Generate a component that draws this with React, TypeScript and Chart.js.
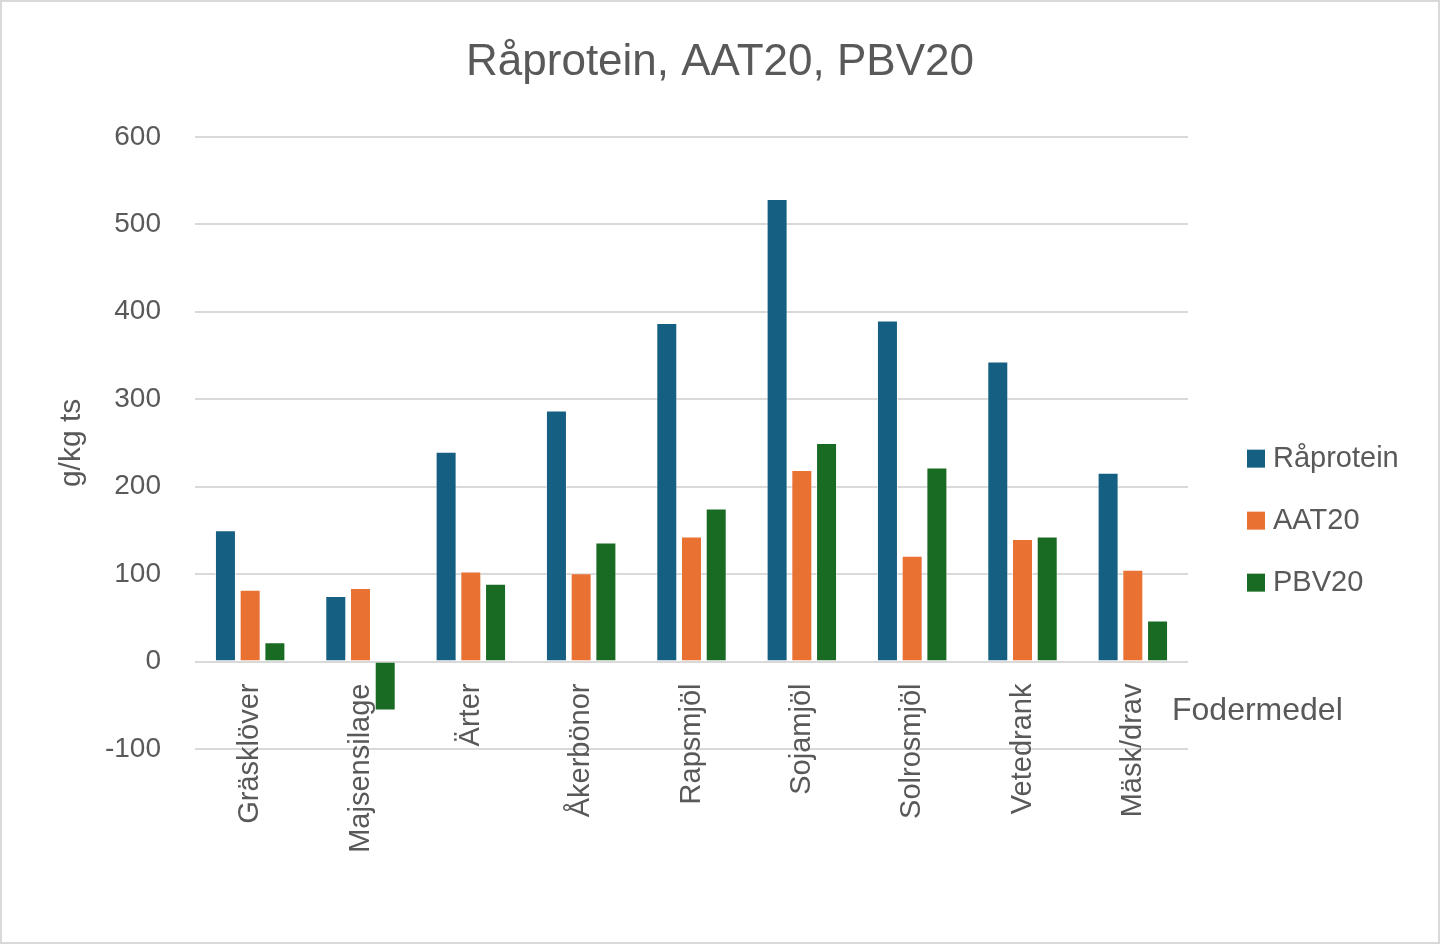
import React, { useEffect, useRef } from "react";
import { Chart, registerables } from "chart.js";

Chart.register(...registerables);

const categories = ["Gräsklöver", "Majsensilage", "Ärter", "Åkerbönor", "Rapsmjöl", "Sojamjöl", "Solrosmjöl", "Vetedrank", "Mäsk/drav"];
const raprotein = [150, 75, 240, 287, 387, 529, 390, 343, 216];
const aat20 = [82, 84, 103, 101, 143, 219, 121, 140, 105];
const pbv20 = [22, -56, 89, 136, 175, 250, 222, 143, 47];
const seriesNames = ["Råprotein", "AAT20", "PBV20"];
const seriesColors = ["#156082", "#E97132", "#196B24"];
const chartTitle = "Råprotein, AAT20, PBV20";
const yAxisTitle = "g/kg ts";
const xAxisTitle = "Fodermedel";
const yMin = -100;
const yMax = 600;
const yStep = 100;

const FONT = "'Liberation Sans', Arial, sans-serif";
const TEXT = "#595959";
const GRID = "#d9d9d9";

const sideTextPlugin = {
  id: "sideText",
  afterDraw(chart: any) {
    const { ctx, chartArea, scales } = chart;
    const y = scales.y;
    ctx.save();
    // category-axis title, right of the axis
    ctx.font = `32px ${FONT}`;
    ctx.fillStyle = TEXT;
    ctx.textAlign = "left";
    ctx.textBaseline = "middle";
    ctx.fillText(xAxisTitle, chartArea.right - 16, y.getPixelForValue(0) + 50);
    // legend
    const h = chartArea.bottom - chartArea.top;
    const cy = chartArea.top + h * 0.627;
    const step = 62;
    const n = chart.data.datasets.length;
    ctx.font = `29px ${FONT}`;
    chart.data.datasets.forEach((ds: any, i: number) => {
      const iy = cy + (i - (n - 1) / 2) * step;
      const bx = chartArea.right + 59;
      ctx.fillStyle = ds.backgroundColor;
      ctx.fillRect(bx, iy - 9, 18, 18);
      ctx.fillStyle = TEXT;
      ctx.fillText(ds.label, bx + 26, iy);
    });
    ctx.restore();
  },
};

export default function App() {
  const ref = useRef<HTMLCanvasElement>(null);

  useEffect(() => {
    document.body.style.margin = "0";
    const canvas = ref.current;
    if (!canvas) return;
    const seriesData = [raprotein, aat20, pbv20];
    const chart = new Chart(canvas, {
      type: "bar",
      data: {
        labels: categories,
        datasets: seriesNames.map((name, i) => ({
          label: name,
          data: seriesData[i],
          backgroundColor: seriesColors[i],
          borderColor: "rgba(255,255,255,0.55)",
          borderWidth: 1,
          categoryPercentage: 0.672,
          barPercentage: 0.85,
          yAxisID: "y",
        })),
      },
      options: {
        responsive: false,
        animation: false,
        devicePixelRatio: 1,
        layout: { padding: { left: 0, right: 0, bottom: 193, top: 0 } },
        plugins: {
          legend: { display: false },
          tooltip: { enabled: false },
          title: {
            display: true,
            text: chartTitle,
            color: TEXT,
            font: { family: FONT, size: 44, weight: "normal" },
            padding: { top: 34, bottom: 48 },
          },
        },
        scales: {
          x: {
            position: { y: 0 } as any,
            grid: { display: false, drawTicks: false },
            border: { display: false },
            ticks: {
              color: TEXT,
              font: { family: FONT, size: 29 },
              minRotation: 90,
              maxRotation: 90,
              autoSkip: false,
              padding: 22,
            },
          },
          y: {
            min: yMin,
            max: yMax,
            grid: { color: GRID, lineWidth: 2, drawTicks: false },
            border: { display: false },
            ticks: {
              stepSize: yStep,
              color: TEXT,
              font: { family: FONT, size: 28 },
              padding: 34,
            },
            title: {
              display: true,
              text: yAxisTitle,
              color: TEXT,
              font: { family: FONT, size: 30 },
              padding: { top: 52, bottom: 0 },
            },
            afterFit(scale: any) {
              scale.width = 193;
            },
          },
          legendSpace: {
            type: "linear",
            position: "right",
            display: true,
            grid: { display: false, drawTicks: false },
            border: { display: false },
            ticks: { display: false },
            afterFit(scale: any) {
              scale.width = 250;
            },
          },
        },
      },
      plugins: [sideTextPlugin],
    });
    return () => chart.destroy();
  }, []);

  return (
    <div
      style={{
        position: "absolute",
        left: 0,
        top: 0,
        width: 1440,
        height: 944,
        boxSizing: "border-box",
        border: "2px solid #d9d9d9",
        background: "#ffffff",
      }}
    >
      <canvas ref={ref} width={1436} height={940} style={{ display: "block" }} />
    </div>
  );
}
